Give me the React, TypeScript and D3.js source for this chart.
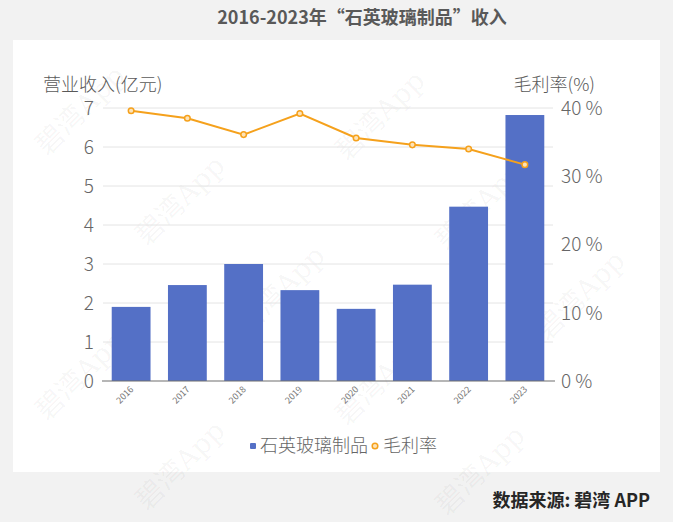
import { useEffect, useRef } from 'react';
import * as d3 from 'd3';

const years = ['2016', '2017', '2018', '2019', '2020', '2021', '2022', '2023'];
const revenue = [1.9, 2.46, 3.0, 2.33, 1.85, 2.47, 4.47, 6.82];
const grossMargin = [39.6, 38.5, 36.1, 39.2, 35.6, 34.6, 34.0, 31.7];
const revenueTicks = [0, 1, 2, 3, 4, 5, 6, 7];
const marginTicks = [0, 10, 20, 30, 40];

const W = 673;
const H = 522;
const FONT = '"Noto Sans CJK SC", "Noto Sans", sans-serif';
const BLUE = '#5470c6';
const ORANGE = '#f5a11c';
const GRAY = '#666666';

export default function App() {
  const svgRef = useRef<SVGSVGElement>(null);

  useEffect(() => {
    document.body.style.margin = '0';
    if (!svgRef.current) return;

    const svg = d3.select(svgRef.current);
    svg.selectAll('*').remove();

    // page + panel
    svg.append('rect').attr('width', W).attr('height', H).attr('fill', '#f2f2f2');
    svg.append('rect')
      .attr('x', 13).attr('y', 40)
      .attr('width', 647).attr('height', 432)
      .attr('fill', '#ffffff');

    // watermark lattice (kept inside the picture)
    const marks: [number, number][] = [];
    for (let i = -3; i <= 4; i++) {
      for (let j = -3; j <= 5; j++) {
        const px = 180 + 200 * i + 100 * j;
        const py = 200 - 85 * i + 90 * j;
        if (px > 50 && px < W - 50 && py > 50 && py < H - 50) marks.push([px, py]);
      }
    }
    svg.append('g')
      .selectAll('text')
      .data(marks)
      .join('text')
      .attr('transform', d => `translate(${d[0]},${d[1]}) rotate(-45)`)
      .attr('text-anchor', 'middle')
      .attr('dy', '0.35em')
      .attr('font-family', '"DejaVu Serif", "Noto Sans CJK SC", serif')
      .attr('font-size', 28)
      .attr('fill', '#000000')
      .attr('fill-opacity', 0.045)
      .text('碧湾App');

    const left = 103;
    const right = 553;
    const top = 108;
    const bottom = 381;

    const x = d3.scaleBand<string>()
      .domain(years)
      .range([left, right])
      .paddingInner(0.31)
      .paddingOuter(0.155);

    const yL = d3.scaleLinear().domain([0, 7]).range([bottom, top]);
    const yR = d3.scaleLinear().domain([0, 40]).range([bottom, top]);

    // gridlines
    svg.append('g')
      .selectAll('line')
      .data(revenueTicks.filter(d => d > 0))
      .join('line')
      .attr('x1', left).attr('x2', right)
      .attr('y1', d => yL(d)).attr('y2', d => yL(d))
      .attr('stroke', '#e4e4e4')
      .attr('stroke-width', 1);

    // bars
    svg.append('g')
      .selectAll('rect')
      .data(years)
      .join('rect')
      .attr('x', d => x(d) as number)
      .attr('width', x.bandwidth())
      .attr('y', (_, i) => yL(revenue[i]))
      .attr('height', (_, i) => bottom - yL(revenue[i]))
      .attr('fill', BLUE);

    // bottom axis line
    svg.append('line')
      .attr('x1', left - 1).attr('x2', right + 2)
      .attr('y1', bottom).attr('y2', bottom)
      .attr('stroke', '#6e6e6e')
      .attr('stroke-width', 1.2);

    // left axis
    const leftAxis = d3.axisLeft(yL)
      .tickValues(revenueTicks)
      .tickSize(0)
      .tickPadding(8)
      .tickFormat(d3.format('d'));
    const gl = svg.append('g').attr('transform', `translate(${left - 1},0)`).call(leftAxis);
    gl.select('.domain').remove();
    gl.selectAll('text')
      .attr('font-family', FONT)
      .attr('font-size', 19)
      .attr('font-weight', 300)
      .attr('fill', GRAY)
      .attr('dy', '0.34em');

    // right axis
    const rightAxis = d3.axisRight(yR)
      .tickValues(marginTicks)
      .tickSize(0)
      .tickPadding(8)
      .tickFormat(d => `${d} %`);
    const gr = svg.append('g').attr('transform', `translate(${right},0)`).call(rightAxis);
    gr.select('.domain').remove();
    gr.selectAll('text')
      .attr('font-family', FONT)
      .attr('font-size', 19)
      .attr('font-weight', 300)
      .attr('fill', GRAY)
      .attr('dy', '0.34em');

    // x labels
    svg.append('g')
      .selectAll('text')
      .data(years)
      .join('text')
      .attr('transform', d => `translate(${(x(d) as number) + x.bandwidth() / 2 + 3},${bottom + 9}) rotate(-45)`)
      .attr('text-anchor', 'end')
      .attr('font-family', FONT)
      .attr('font-size', 9)
      .attr('fill', '#777777')
      .text(d => d);

    // margin line
    const cx = (d: string) => (x(d) as number) + x.bandwidth() / 2;
    const line = d3.line<number>()
      .x((_, i) => cx(years[i]))
      .y(d => yR(d));
    svg.append('path')
      .attr('d', line(grossMargin) as string)
      .attr('fill', 'none')
      .attr('stroke', ORANGE)
      .attr('stroke-width', 2);
    svg.append('g')
      .selectAll('circle')
      .data(grossMargin)
      .join('circle')
      .attr('cx', (_, i) => cx(years[i]))
      .attr('cy', d => yR(d))
      .attr('r', 2.8)
      .attr('fill', '#fde3b8')
      .attr('stroke', ORANGE)
      .attr('stroke-width', 1.5);

    // axis titles
    svg.append('text')
      .attr('x', 43).attr('y', 85).attr('dy', '0.35em')
      .attr('font-family', FONT).attr('font-size', 18).attr('font-weight', 300)
      .attr('fill', '#595959')
      .text('营业收入(亿元)');
    svg.append('text')
      .attr('x', 595).attr('y', 85).attr('dy', '0.35em')
      .attr('text-anchor', 'end')
      .attr('font-family', FONT).attr('font-size', 18).attr('font-weight', 300)
      .attr('fill', '#595959')
      .text('毛利率(%)');

    // title
    svg.append('text')
      .attr('x', 362).attr('y', 18).attr('dy', '0.35em')
      .attr('text-anchor', 'middle')
      .attr('font-family', FONT).attr('font-size', 18).attr('font-weight', 'bold')
      .attr('fill', '#595959')
      .text('2016-2023年“石英玻璃制品”收入');

    // legend
    const lg = svg.append('g');
    lg.append('rect')
      .attr('x', 250).attr('y', 443).attr('width', 6).attr('height', 6).attr('rx', 1)
      .attr('fill', BLUE);
    lg.append('text')
      .attr('x', 260).attr('y', 446).attr('dy', '0.35em')
      .attr('font-family', FONT).attr('font-size', 18).attr('font-weight', 300)
      .attr('fill', GRAY)
      .text('石英玻璃制品');
    lg.append('circle')
      .attr('cx', 375).attr('cy', 446).attr('r', 2.8)
      .attr('fill', '#fde3b8').attr('stroke', ORANGE).attr('stroke-width', 1.5);
    lg.append('text')
      .attr('x', 383).attr('y', 446).attr('dy', '0.35em')
      .attr('font-family', FONT).attr('font-size', 18).attr('font-weight', 300)
      .attr('fill', GRAY)
      .text('毛利率');

    // source
    svg.append('text')
      .attr('x', 650).attr('y', 501).attr('dy', '0.35em')
      .attr('text-anchor', 'end')
      .attr('font-family', FONT).attr('font-size', 18).attr('font-weight', 'bold')
      .attr('fill', '#262626')
      .text('数据来源: 碧湾 APP');
  }, []);

  return <svg ref={svgRef} width={W} height={H} style={{ display: 'block' }} />;
}
